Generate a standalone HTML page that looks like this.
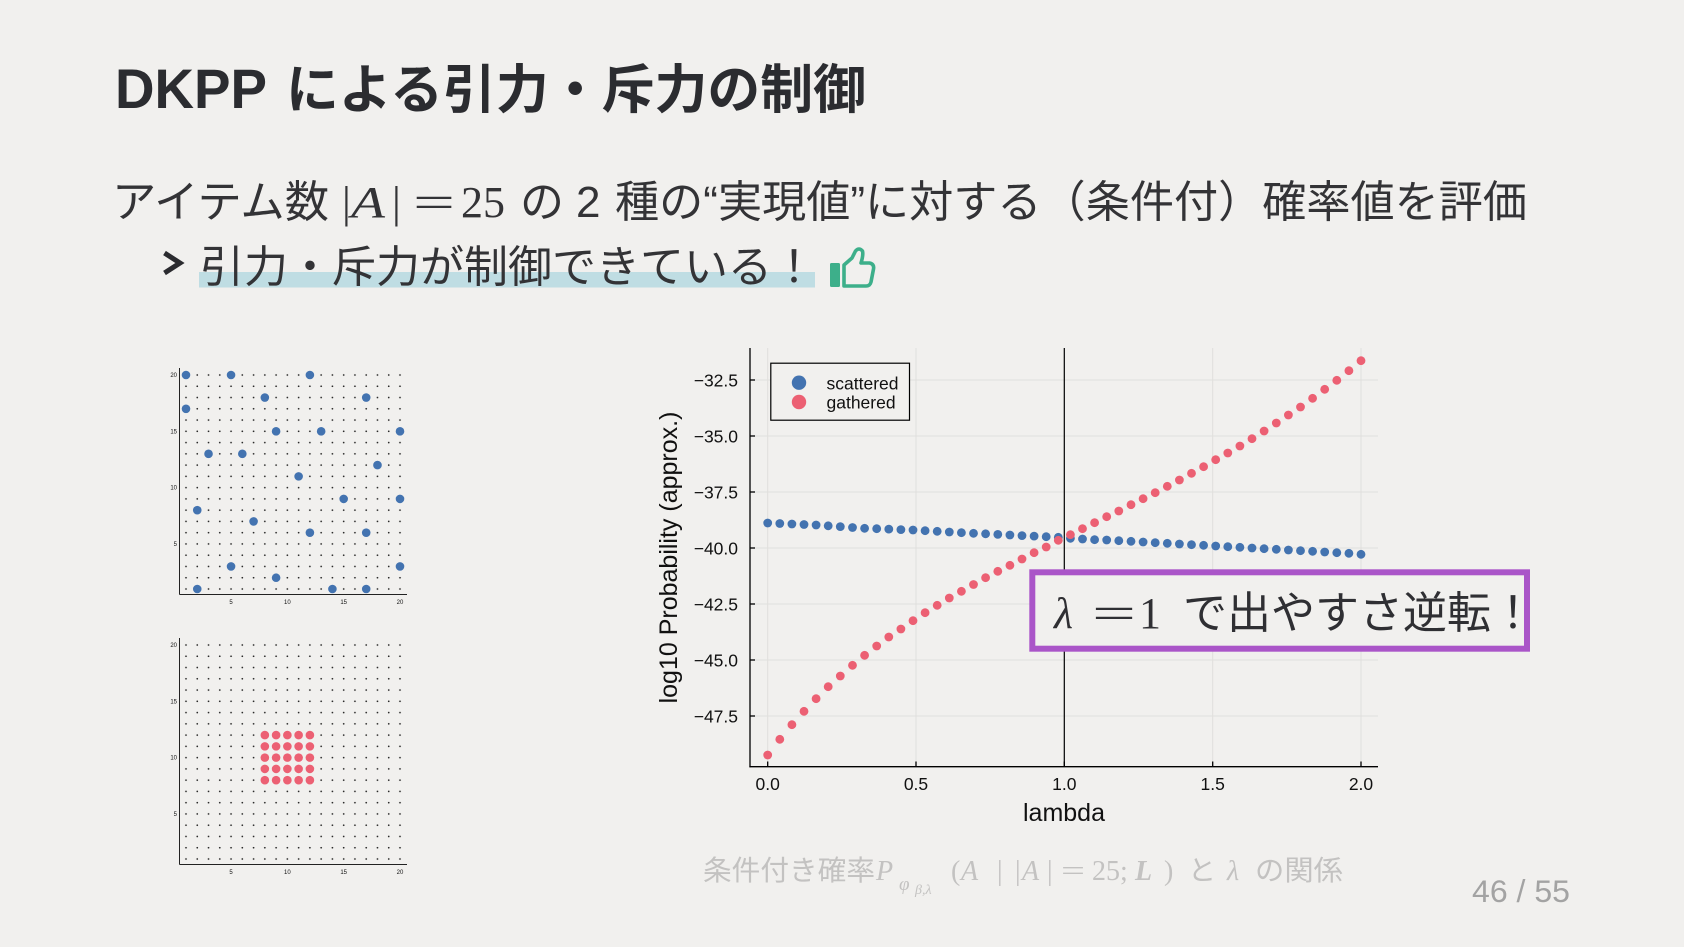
<!DOCTYPE html>
<html><head><meta charset="utf-8">
<style>
html,body{margin:0;padding:0;background:#f1f0ee;}
body{width:1684px;height:947px;overflow:hidden;}
svg{display:block;}
.jp{font-family:"Liberation Sans","Noto Sans CJK JP",sans-serif;}
.ser{font-family:"Liberation Serif","DejaVu Serif",serif;}
.ax{font-family:"Liberation Sans",sans-serif;fill:#111;}
</style></head>
<body>
<svg width="1684" height="947" viewBox="0 0 1684 947" xmlns="http://www.w3.org/2000/svg">
<defs>
<pattern id="dots1" x="180.37" y="369.37" width="11.263" height="11.263" patternUnits="userSpaceOnUse"><circle cx="5.63" cy="5.63" r="0.85" fill="#222"/></pattern>
<pattern id="dots2" x="180.37" y="639.37" width="11.263" height="11.263" patternUnits="userSpaceOnUse"><circle cx="5.63" cy="5.63" r="0.85" fill="#222"/></pattern>
</defs>
<rect width="1684" height="947" fill="#f1f0ee"/>

<!-- Title -->
<text x="115" y="108" class="jp" font-size="56" font-weight="bold" fill="#2b2c30" textLength="152" lengthAdjust="spacingAndGlyphs">DKPP</text>
<text x="286" y="108" class="jp" font-size="53" font-weight="bold" fill="#2b2c30" textLength="580" lengthAdjust="spacingAndGlyphs">による引力・斥力の制御</text>

<!-- Body line 1 -->
<g fill="#333336" font-size="44">
<text x="112" y="217" class="jp" textLength="217" lengthAdjust="spacingAndGlyphs">アイテム数</text>
<text x="342" y="217" class="ser">|</text>
<text x="351" y="217" class="ser" font-style="italic" textLength="34" lengthAdjust="spacingAndGlyphs">A</text>
<text x="392" y="217" class="ser">|</text>
<text x="413" y="217" class="ser" textLength="42" lengthAdjust="spacingAndGlyphs">=</text>
<text x="461" y="217" class="ser" textLength="44" lengthAdjust="spacingAndGlyphs">25</text>
<text x="520" y="217" class="jp">の</text>
<text x="576" y="217" class="jp">2</text>
<text x="615" y="217" class="jp" textLength="912" lengthAdjust="spacingAndGlyphs">種の“実現値”に対する（条件付）確率値を評価</text>
</g>

<!-- Body line 2 -->
<polyline points="164.5,253 180,263 164.5,273" fill="none" stroke="#2b2b2f" stroke-width="5" stroke-linejoin="miter"/>
<rect x="199" y="272" width="616" height="15.5" fill="#bfdde3"/>
<text x="200" y="282" class="jp" font-size="44" fill="#333336" textLength="616" lengthAdjust="spacingAndGlyphs">引力・斥力が制御できている！</text>
<!-- thumbs up -->
<rect x="830" y="263" width="10" height="24" rx="1.5" fill="#3daf8a"/>
<path d="M844,265 L852,258 L855.5,251 Q859,247 862.5,251 Q863.5,255 861,263 L869.5,263 Q874.5,264 873.5,269 L871,282 Q870,286 866,286 L844,286 Z" fill="none" stroke="#3daf8a" stroke-width="3.6" stroke-linejoin="round"/>

<!-- Small plot 1 (scattered) -->
<rect x="180.37" y="369.37" width="225.26" height="225.26" fill="url(#dots1)"/>
<line x1="179.5" y1="368" x2="179.5" y2="594.5" stroke="#222" stroke-width="1"/>
<line x1="179.5" y1="594.5" x2="407" y2="594.5" stroke="#222" stroke-width="1"/>
<g class="ax" font-size="6" text-anchor="end">
<text x="177" y="377">20</text><text x="177" y="433.3">15</text><text x="177" y="489.6">10</text><text x="177" y="545.9">5</text>
</g>
<g class="ax" font-size="6" text-anchor="middle">
<text x="231" y="604">5</text><text x="287.4" y="604">10</text><text x="343.7" y="604">15</text><text x="400" y="604">20</text>
</g>
<g fill="#4373b0">
<circle cx="186" cy="375" r="4.3"/><circle cx="231.05" cy="375" r="4.3"/><circle cx="309.89" cy="375" r="4.3"/>
<circle cx="264.84" cy="397.53" r="4.3"/><circle cx="366.21" cy="397.53" r="4.3"/>
<circle cx="186" cy="408.79" r="4.3"/>
<circle cx="276.1" cy="431.32" r="4.3"/><circle cx="321.16" cy="431.32" r="4.3"/><circle cx="400" cy="431.32" r="4.3"/>
<circle cx="208.53" cy="453.84" r="4.3"/><circle cx="242.32" cy="453.84" r="4.3"/>
<circle cx="377.47" cy="465.1" r="4.3"/>
<circle cx="298.63" cy="476.37" r="4.3"/>
<circle cx="343.68" cy="498.89" r="4.3"/><circle cx="400" cy="498.89" r="4.3"/>
<circle cx="197.26" cy="510.16" r="4.3"/>
<circle cx="253.58" cy="521.42" r="4.3"/>
<circle cx="309.89" cy="532.68" r="4.3"/><circle cx="366.21" cy="532.68" r="4.3"/>
<circle cx="231.05" cy="566.47" r="4.3"/><circle cx="400" cy="566.47" r="4.3"/>
<circle cx="276.1" cy="577.73" r="4.3"/>
<circle cx="197.26" cy="589" r="4.3"/><circle cx="332.42" cy="589" r="4.3"/><circle cx="366.21" cy="589" r="4.3"/>
</g>

<!-- Small plot 2 (gathered) -->
<rect x="180.37" y="639.37" width="225.26" height="225.26" fill="url(#dots2)"/>
<line x1="179.5" y1="638" x2="179.5" y2="864.5" stroke="#222" stroke-width="1"/>
<line x1="179.5" y1="864.5" x2="407" y2="864.5" stroke="#222" stroke-width="1"/>
<g class="ax" font-size="6" text-anchor="end">
<text x="177" y="647">20</text><text x="177" y="703.3">15</text><text x="177" y="759.6">10</text><text x="177" y="815.9">5</text>
</g>
<g class="ax" font-size="6" text-anchor="middle">
<text x="231" y="874">5</text><text x="287.4" y="874">10</text><text x="343.7" y="874">15</text><text x="400" y="874">20</text>
</g>
<g fill="#ec6073">
<circle cx="264.84" cy="735.1" r="4.3"/><circle cx="276.1" cy="735.1" r="4.3"/><circle cx="287.37" cy="735.1" r="4.3"/><circle cx="298.63" cy="735.1" r="4.3"/><circle cx="309.89" cy="735.1" r="4.3"/>
<circle cx="264.84" cy="746.37" r="4.3"/><circle cx="276.1" cy="746.37" r="4.3"/><circle cx="287.37" cy="746.37" r="4.3"/><circle cx="298.63" cy="746.37" r="4.3"/><circle cx="309.89" cy="746.37" r="4.3"/>
<circle cx="264.84" cy="757.63" r="4.3"/><circle cx="276.1" cy="757.63" r="4.3"/><circle cx="287.37" cy="757.63" r="4.3"/><circle cx="298.63" cy="757.63" r="4.3"/><circle cx="309.89" cy="757.63" r="4.3"/>
<circle cx="264.84" cy="768.89" r="4.3"/><circle cx="276.1" cy="768.89" r="4.3"/><circle cx="287.37" cy="768.89" r="4.3"/><circle cx="298.63" cy="768.89" r="4.3"/><circle cx="309.89" cy="768.89" r="4.3"/>
<circle cx="264.84" cy="780.16" r="4.3"/><circle cx="276.1" cy="780.16" r="4.3"/><circle cx="287.37" cy="780.16" r="4.3"/><circle cx="298.63" cy="780.16" r="4.3"/><circle cx="309.89" cy="780.16" r="4.3"/>
</g>

<!-- Main chart: grid -->
<g stroke="#e0dfdd" stroke-width="1">
<line x1="767.7" y1="348" x2="767.7" y2="766.7"/>
<line x1="916" y1="348" x2="916" y2="766.7"/>
<line x1="1212.7" y1="348" x2="1212.7" y2="766.7"/>
<line x1="1361" y1="348" x2="1361" y2="766.7"/>
<line x1="750" y1="380" x2="1378" y2="380"/>
<line x1="750" y1="436" x2="1378" y2="436"/>
<line x1="750" y1="492" x2="1378" y2="492"/>
<line x1="750" y1="548" x2="1378" y2="548"/>
<line x1="750" y1="604" x2="1378" y2="604"/>
<line x1="750" y1="660" x2="1378" y2="660"/>
<line x1="750" y1="716" x2="1378" y2="716"/>
</g>
<!-- axes -->
<g stroke="#000" stroke-width="1.3">
<line x1="750" y1="348" x2="750" y2="767.3"/>
<line x1="749.4" y1="766.7" x2="1378" y2="766.7"/>
<line x1="750" y1="380" x2="755" y2="380"/>
<line x1="750" y1="436" x2="755" y2="436"/>
<line x1="750" y1="492" x2="755" y2="492"/>
<line x1="750" y1="548" x2="755" y2="548"/>
<line x1="750" y1="604" x2="755" y2="604"/>
<line x1="750" y1="660" x2="755" y2="660"/>
<line x1="750" y1="716" x2="755" y2="716"/>
<line x1="767.7" y1="761.5" x2="767.7" y2="766.7"/>
<line x1="916" y1="761.5" x2="916" y2="766.7"/>
<line x1="1064.3" y1="761.5" x2="1064.3" y2="766.7"/>
<line x1="1212.7" y1="761.5" x2="1212.7" y2="766.7"/>
<line x1="1361" y1="761.5" x2="1361" y2="766.7"/>
</g>
<line x1="1064.3" y1="348" x2="1064.3" y2="766.7" stroke="#000" stroke-width="1.2"/>
<!-- tick labels -->
<g class="ax" font-size="17.5" text-anchor="end">
<text x="738" y="386.3">−32.5</text>
<text x="738" y="442.3">−35.0</text>
<text x="738" y="498.3">−37.5</text>
<text x="738" y="554.3">−40.0</text>
<text x="738" y="610.3">−42.5</text>
<text x="738" y="666.3">−45.0</text>
<text x="738" y="722.3">−47.5</text>
</g>
<g class="ax" font-size="17.5" text-anchor="middle">
<text x="767.7" y="790">0.0</text>
<text x="916" y="790">0.5</text>
<text x="1064.3" y="790">1.0</text>
<text x="1212.7" y="790">1.5</text>
<text x="1361" y="790">2.0</text>
</g>
<text x="1064" y="821" class="ax" font-size="25" text-anchor="middle">lambda</text>
<text transform="translate(677,557.5) rotate(-90)" class="ax" font-size="25" text-anchor="middle">log10 Probability (approx.)</text>

<!-- scattered series -->
<g fill="#4373b0">
<circle cx="767.7" cy="523.0" r="4.4"/><circle cx="779.8" cy="523.5" r="4.4"/><circle cx="791.9" cy="524.0" r="4.4"/><circle cx="804.0" cy="524.5" r="4.4"/><circle cx="816.1" cy="525.0" r="4.4"/>
<circle cx="828.2" cy="525.8" r="4.4"/><circle cx="840.3" cy="526.6" r="4.4"/><circle cx="852.5" cy="527.5" r="4.4"/><circle cx="864.6" cy="528.3" r="4.4"/><circle cx="876.7" cy="528.7" r="4.4"/>
<circle cx="888.8" cy="529.1" r="4.4"/><circle cx="900.9" cy="529.6" r="4.4"/><circle cx="913.0" cy="530.0" r="4.4"/><circle cx="925.1" cy="530.7" r="4.4"/><circle cx="937.2" cy="531.3" r="4.4"/>
<circle cx="949.3" cy="532.0" r="4.4"/><circle cx="961.4" cy="532.7" r="4.4"/><circle cx="973.5" cy="533.3" r="4.4"/><circle cx="985.6" cy="533.8" r="4.4"/><circle cx="997.8" cy="534.4" r="4.4"/>
<circle cx="1009.9" cy="535.0" r="4.4"/><circle cx="1022.0" cy="535.6" r="4.4"/><circle cx="1034.1" cy="536.1" r="4.4"/><circle cx="1046.2" cy="536.7" r="4.4"/><circle cx="1058.3" cy="537.3" r="4.4"/>
<circle cx="1070.4" cy="538.3" r="4.4"/><circle cx="1082.5" cy="539.0" r="4.4"/><circle cx="1094.6" cy="539.7" r="4.4"/><circle cx="1106.7" cy="540.0" r="4.4"/><circle cx="1118.8" cy="540.7" r="4.4"/>
<circle cx="1131.0" cy="541.3" r="4.4"/><circle cx="1143.1" cy="542.0" r="4.4"/><circle cx="1155.2" cy="542.7" r="4.4"/><circle cx="1167.3" cy="543.3" r="4.4"/><circle cx="1179.4" cy="544.0" r="4.4"/>
<circle cx="1191.5" cy="544.7" r="4.4"/><circle cx="1203.6" cy="545.3" r="4.4"/><circle cx="1215.7" cy="546.0" r="4.4"/><circle cx="1227.8" cy="546.7" r="4.4"/><circle cx="1239.9" cy="547.3" r="4.4"/>
<circle cx="1252.0" cy="548.0" r="4.4"/><circle cx="1264.1" cy="548.7" r="4.4"/><circle cx="1276.3" cy="549.3" r="4.4"/><circle cx="1288.4" cy="550.0" r="4.4"/><circle cx="1300.5" cy="550.7" r="4.4"/>
<circle cx="1312.6" cy="551.3" r="4.4"/><circle cx="1324.7" cy="552.0" r="4.4"/><circle cx="1336.8" cy="552.7" r="4.4"/><circle cx="1348.9" cy="553.3" r="4.4"/><circle cx="1361.0" cy="554.3" r="4.4"/>
</g>
<!-- gathered series -->
<g fill="#ec6073">
<circle cx="767.7" cy="755.0" r="4.4"/><circle cx="779.8" cy="739.3" r="4.4"/><circle cx="791.9" cy="724.7" r="4.4"/><circle cx="804.0" cy="711.3" r="4.4"/><circle cx="816.1" cy="698.7" r="4.4"/>
<circle cx="828.2" cy="686.7" r="4.4"/><circle cx="840.3" cy="676.0" r="4.4"/><circle cx="852.5" cy="665.3" r="4.4"/><circle cx="864.6" cy="655.3" r="4.4"/><circle cx="876.7" cy="646.0" r="4.4"/>
<circle cx="888.8" cy="637.0" r="4.4"/><circle cx="900.9" cy="629.0" r="4.4"/><circle cx="913.0" cy="620.7" r="4.4"/><circle cx="925.1" cy="612.7" r="4.4"/><circle cx="937.2" cy="605.3" r="4.4"/>
<circle cx="949.3" cy="598.0" r="4.4"/><circle cx="961.4" cy="591.3" r="4.4"/><circle cx="973.5" cy="584.5" r="4.4"/><circle cx="985.6" cy="577.7" r="4.4"/><circle cx="997.8" cy="571.3" r="4.4"/>
<circle cx="1009.9" cy="565.3" r="4.4"/><circle cx="1022.0" cy="559.0" r="4.4"/><circle cx="1034.1" cy="552.7" r="4.4"/><circle cx="1046.2" cy="547.0" r="4.4"/><circle cx="1058.3" cy="540.3" r="4.4"/>
<circle cx="1070.4" cy="534.7" r="4.4"/><circle cx="1082.5" cy="528.7" r="4.4"/><circle cx="1094.6" cy="522.7" r="4.4"/><circle cx="1106.7" cy="516.7" r="4.4"/><circle cx="1118.8" cy="511.0" r="4.4"/>
<circle cx="1131.0" cy="504.7" r="4.4"/><circle cx="1143.1" cy="498.7" r="4.4"/><circle cx="1155.2" cy="492.7" r="4.4"/><circle cx="1167.3" cy="486.3" r="4.4"/><circle cx="1179.4" cy="480.0" r="4.4"/>
<circle cx="1191.5" cy="473.3" r="4.4"/><circle cx="1203.6" cy="466.7" r="4.4"/><circle cx="1215.7" cy="459.7" r="4.4"/><circle cx="1227.8" cy="453.0" r="4.4"/><circle cx="1239.9" cy="446.0" r="4.4"/>
<circle cx="1252.0" cy="438.7" r="4.4"/><circle cx="1264.1" cy="431.0" r="4.4"/><circle cx="1276.3" cy="423.0" r="4.4"/><circle cx="1288.4" cy="415.0" r="4.4"/><circle cx="1300.5" cy="407.0" r="4.4"/>
<circle cx="1312.6" cy="398.3" r="4.4"/><circle cx="1324.7" cy="389.3" r="4.4"/><circle cx="1336.8" cy="380.3" r="4.4"/><circle cx="1348.9" cy="370.7" r="4.4"/><circle cx="1361.0" cy="360.7" r="4.4"/>
</g>

<!-- legend -->
<rect x="770.8" y="363.2" width="138.7" height="57" fill="#f1f0ee" stroke="#000" stroke-width="1.2"/>
<circle cx="799" cy="382.7" r="7.2" fill="#4373b0"/>
<circle cx="799" cy="402" r="7.2" fill="#ec6073"/>
<text x="826.5" y="389.5" class="ax" font-size="17.5">scattered</text>
<text x="826.5" y="408.5" class="ax" font-size="17.5">gathered</text>

<!-- callout -->
<rect x="1032.3" y="572.3" width="494.7" height="76.4" fill="#f1f0ee" stroke="#aa55c8" stroke-width="6"/>
<g fill="#2f2f33" font-size="44">
<text x="1054" y="628" class="ser" font-style="italic">λ</text>
<text x="1092" y="628" class="ser" textLength="44" lengthAdjust="spacingAndGlyphs">=</text>
<text x="1139" y="628" class="ser">1</text>
<text x="1183" y="628" class="jp" textLength="352" lengthAdjust="spacingAndGlyphs">で出やすさ逆転！</text>
</g>

<!-- caption -->
<g fill="#c3c2c1" font-size="28">
<text x="703" y="880" class="jp" textLength="172" lengthAdjust="spacingAndGlyphs">条件付き確率</text>
<text x="876" y="880" class="ser" font-style="italic">P</text>
<text x="899" y="890" class="ser" font-style="italic" font-size="19">φ</text>
<text x="915" y="894" class="ser" font-style="italic" font-size="14">β,λ</text>
<text x="951" y="880" class="ser">(</text>
<text x="961" y="880" class="ser" font-style="italic">A</text>
<text x="997" y="880" class="ser">|</text>
<text x="1015" y="880" class="ser">|</text>
<text x="1022" y="880" class="ser" font-style="italic">A</text>
<text x="1047" y="880" class="ser">|</text>
<text x="1061" y="880" class="ser" textLength="24" lengthAdjust="spacingAndGlyphs">=</text>
<text x="1092" y="880" class="ser">25;</text>
<text x="1135" y="880" class="ser" font-weight="bold" font-style="italic">L</text>
<text x="1164" y="880" class="ser">)</text>
<text x="1188" y="880" class="jp">と</text>
<text x="1227" y="880" class="ser" font-style="italic">λ</text>
<text x="1255" y="880" class="jp" textLength="88" lengthAdjust="spacingAndGlyphs">の関係</text>
</g>

<!-- page number -->
<text x="1472" y="902" class="jp" font-size="31.6" fill="#a3a3a3" textLength="98" lengthAdjust="spacingAndGlyphs">46 / 55</text>
</svg>
</body></html>
